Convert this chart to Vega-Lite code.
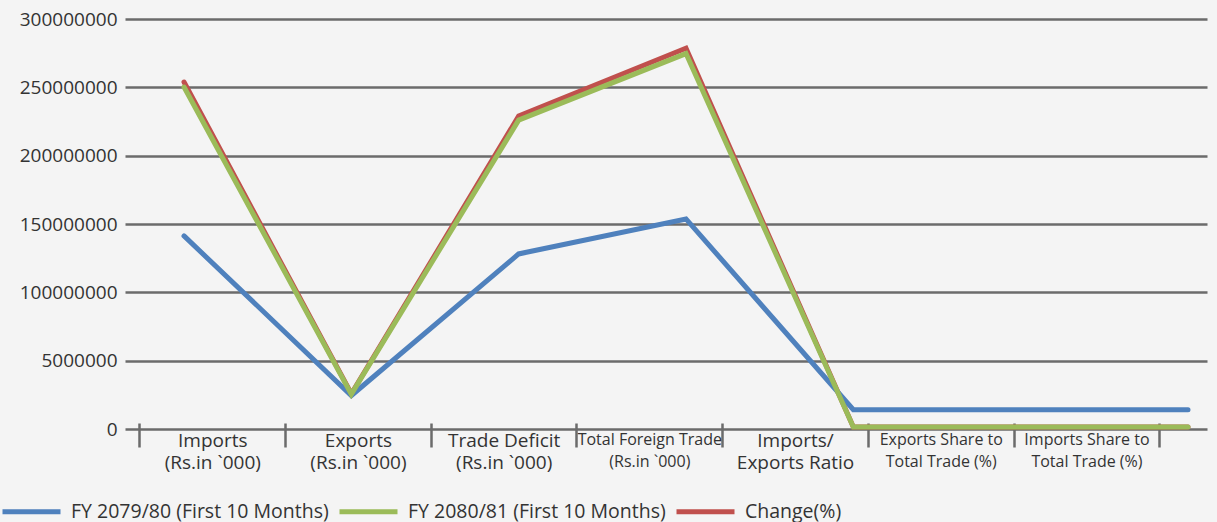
{
  "$schema": "https://vega.github.io/schema/vega-lite/v6.json",
  "autosize": {"type": "none"},
  "width": 1082,
  "height": 410,
  "padding": {"left": 125, "top": 19, "right": 10, "bottom": 93},
  "background": "#f4f4f4",
  "config": {
    "view": {"stroke": null},
    "font": "Open Sans",
    "axis": {"labelFont": "Open Sans", "labelColor": "#333333"},
    "legend": {"labelFont": "Open Sans", "labelColor": "#333333"}
  },
  "datasets": {
    "series": [
      {"series": "Change(%)", "i": 0, "value": 253900000},
      {"series": "Change(%)", "i": 1, "value": 25800000},
      {"series": "Change(%)", "i": 2, "value": 229000000},
      {"series": "Change(%)", "i": 3, "value": 278700000},
      {"series": "Change(%)", "i": 4, "value": 1500000},
      {"series": "Change(%)", "i": 5, "value": 1500000},
      {"series": "Change(%)", "i": 6, "value": 1500000},
      {"series": "FY 2079/80 (First 10 Months)", "i": 0, "value": 141300000},
      {"series": "FY 2079/80 (First 10 Months)", "i": 1, "value": 24500000},
      {"series": "FY 2079/80 (First 10 Months)", "i": 2, "value": 128100000},
      {"series": "FY 2079/80 (First 10 Months)", "i": 3, "value": 153700000},
      {"series": "FY 2079/80 (First 10 Months)", "i": 4, "value": 14100000},
      {"series": "FY 2079/80 (First 10 Months)", "i": 5, "value": 14100000},
      {"series": "FY 2079/80 (First 10 Months)", "i": 6, "value": 14100000},
      {"series": "FY 2080/81 (First 10 Months)", "i": 0, "value": 250200000},
      {"series": "FY 2080/81 (First 10 Months)", "i": 1, "value": 25500000},
      {"series": "FY 2080/81 (First 10 Months)", "i": 2, "value": 226000000},
      {"series": "FY 2080/81 (First 10 Months)", "i": 3, "value": 274700000},
      {"series": "FY 2080/81 (First 10 Months)", "i": 4, "value": 1500000},
      {"series": "FY 2080/81 (First 10 Months)", "i": 5, "value": 1500000},
      {"series": "FY 2080/81 (First 10 Months)", "i": 6, "value": 1500000}
    ],
    "cats": [
      {"cat": "Imports|(Rs.in `000)"},
      {"cat": "Exports|(Rs.in `000)"},
      {"cat": "Trade Deficit|(Rs.in `000)"},
      {"cat": "Total Foreign Trade|(Rs.in `000)"},
      {"cat": "Imports/|Exports Ratio"},
      {"cat": "Exports Share to|Total Trade (%)"},
      {"cat": "Imports Share to|Total Trade (%)"},
      {"cat": " "}
    ]
  },
  "resolve": {"scale": {"x": "independent"}, "axis": {"x": "independent"}},
  "layer": [
    {
      "data": {"name": "cats"},
      "mark": {"type": "point", "opacity": 0},
      "encoding": {
        "x": {
          "field": "cat",
          "type": "nominal",
          "sort": null,
          "scale": {"type": "band", "range": [14.9, 1180.5], "paddingInner": 0, "paddingOuter": 0},
          "axis": {
            "title": null,
            "orient": "bottom",
            "domain": false,
            "offset": -6,
            "ticks": true,
            "tickSize": 24,
            "tickWidth": 2.5,
            "tickColor": "#6b6b6b",
            "bandPosition": 0,
            "labelAngle": 0,
            "labelAlign": "center",
            "labelBaseline": "top",
            "labelPadding": -16,
            "labelFontSize": {"condition": {"test": "indexof(datum.label, 'Share') >= 0 || indexof(datum.label, 'Foreign') >= 0", "value": 16}, "value": 19},
            "labelLineHeight": 22,
            "labelExpr": "split(datum.label, '|')",
            "labelOverlap": false,
            "labelLimit": 300
          }
        }
      }
    },
    {
      "data": {"name": "series"},
      "layer": [
        {
          "transform": [{"filter": "datum.series == 'Change(%)'"}],
          "mark": {"type": "line", "strokeWidth": 5, "strokeCap": "round"},
          "encoding": {}
        },
        {
          "transform": [{"filter": "datum.series == 'FY 2079/80 (First 10 Months)'"}],
          "mark": {"type": "line", "strokeWidth": 5, "strokeCap": "round"},
          "encoding": {}
        },
        {
          "transform": [{"filter": "datum.series == 'FY 2080/81 (First 10 Months)'"}],
          "mark": {"type": "line", "strokeWidth": 5, "strokeCap": "round"},
          "encoding": {}
        }
      ],
      "encoding": {
        "x": {
          "field": "i",
          "type": "quantitative",
          "scale": {"domain": [-0.3526, 6.1135], "nice": false, "zero": false},
          "axis": null
        },
        "y": {
          "field": "value",
          "type": "quantitative",
          "scale": {"domain": [0, 300000000], "nice": false},
          "axis": {
            "title": null,
            "values": [0, 50000000, 100000000, 150000000, 200000000, 250000000, 300000000],
            "labelExpr": "datum.value == 50000000 ? '5000000' : format(datum.value, 'd')",
            "domain": false,
            "ticks": false,
            "labelPadding": 8,
            "labelFontSize": 19,
            "grid": true,
            "gridColor": "#6b6b6b",
            "gridWidth": 2.5,
            "gridOpacity": 1
          }
        },
        "color": {
          "field": "series",
          "type": "nominal",
          "scale": {
            "domain": ["FY 2079/80 (First 10 Months)", "FY 2080/81 (First 10 Months)", "Change(%)"],
            "range": ["#4f81bd", "#9bbb59", "#c0504d"]
          },
          "legend": {
            "title": null,
            "orient": "none",
            "direction": "horizontal",
            "legendX": -125,
            "legendY": 461,
            "padding": 0,
            "symbolType": "M-1,0H1",
            "symbolSize": 3364,
            "symbolStrokeWidth": 5,
            "labelFontSize": 19.5,
            "labelOffset": 8,
            "columnPadding": 0,
            "labelLimit": 400
          }
        }
      }
    }
  ]
}
